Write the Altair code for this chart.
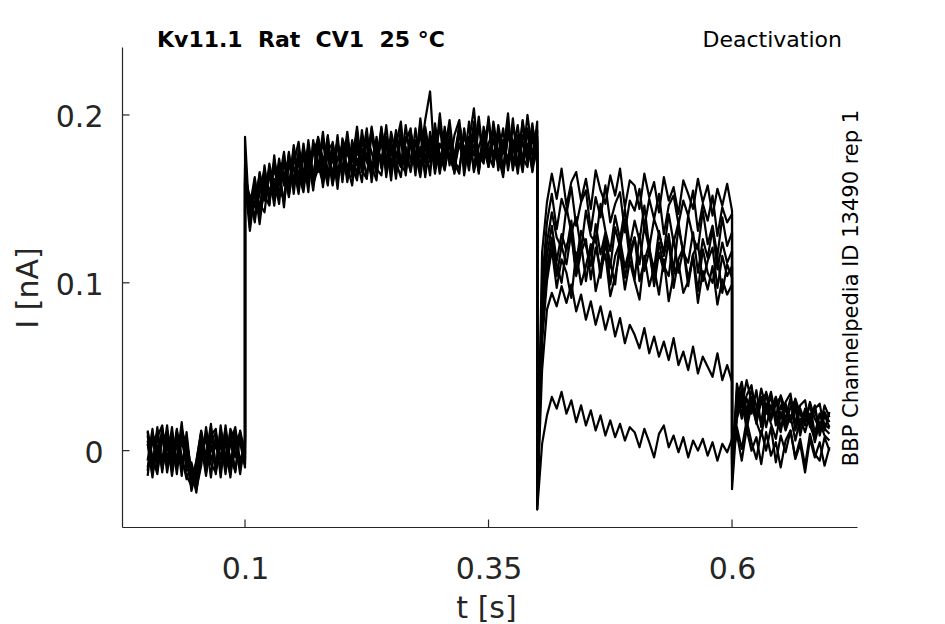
import altair as alt
import pandas as pd

# ---------------- data (current in nA, sampled every 5 ms) ----------------
DT = 0.005
PHASE_START = [0.0, 0.1, 0.4, 0.6]   # s: holding, activation step, test step, tail

X_TICKS = [0.1, 0.35, 0.6]
Y_TICKS = [0.0, 0.1, 0.2]

TITLE = "Kv11.1\u00a0\u00a0Rat\u00a0\u00a0CV1\u00a0\u00a025\u00a0°C"
PROTOCOL = "Deactivation"
SOURCE = "BBP Channelpedia ID 13490 rep 1"

# holding (0 - 0.1 s), one list per sweep
PRE = [
    [0.009, -0.011, 0.012, -0.008, 0.006, -0.013, 0.010, -0.005, -0.015, -0.021, -0.006, 0.011, -0.012, 0.014, -0.009, 0.007, -0.014, 0.012, -0.004, 0.010, -0.008],
    [-0.012, 0.010, -0.004, 0.013, -0.010, 0.008, -0.014, 0.011, -0.002, -0.024, -0.011, 0.004, -0.015, 0.009, 0.013, -0.011, 0.006, -0.016, 0.011, -0.009, 0.004],
    [0.004, -0.016, 0.008, 0.015, -0.009, 0.011, -0.007, 0.017, -0.012, -0.010, -0.025, -0.003, 0.010, -0.008, -0.013, 0.015, -0.006, 0.008, -0.013, 0.012, -0.002],
    [-0.006, 0.013, -0.012, 0.006, 0.011, -0.015, 0.005, -0.011, 0.008, -0.018, -0.007, 0.012, -0.004, 0.016, -0.012, 0.004, -0.009, 0.013, 0.006, -0.014, 0.008],
    [0.012, -0.004, -0.014, 0.010, -0.006, 0.014, -0.010, 0.006, -0.008, -0.013, -0.020, 0.008, -0.011, 0.005, 0.011, -0.016, 0.010, -0.005, -0.012, 0.009, -0.006],
    [-0.010, 0.006, 0.010, -0.013, 0.012, -0.004, 0.009, -0.015, 0.011, -0.016, -0.023, -0.009, 0.014, -0.006, 0.004, -0.012, 0.015, -0.008, 0.009, -0.011, 0.002],
    [0.006, -0.014, 0.003, -0.006, 0.015, -0.011, 0.012, -0.003, -0.017, -0.007, -0.019, 0.005, -0.008, 0.012, -0.014, 0.009, -0.011, 0.004, 0.014, -0.007, 0.006],
    [-0.015, 0.008, -0.009, 0.011, -0.013, 0.004, -0.008, 0.013, 0.002, -0.022, -0.014, 0.010, -0.013, 0.003, -0.010, 0.012, -0.003, -0.014, 0.010, 0.005, -0.010],
    [0.011, -0.009, 0.014, -0.011, 0.003, -0.007, 0.013, -0.012, 0.005, -0.011, -0.017, -0.001, 0.007, -0.016, 0.010, -0.005, 0.013, -0.010, 0.002, 0.011, -0.005],
]

# activation step (0.1 - 0.4 s)
STEP = [
    [0.187, 0.133, 0.162, 0.141, 0.170, 0.147, 0.176, 0.151, 0.172, 0.155, 0.180,
     0.158, 0.183, 0.161, 0.177, 0.186, 0.157, 0.181, 0.163, 0.188, 0.160,
     0.186, 0.164, 0.190, 0.167, 0.162, 0.189, 0.170, 0.193, 0.163, 0.185,
     0.166, 0.192, 0.170, 0.188, 0.164, 0.195, 0.172, 0.168, 0.191, 0.166,
     0.193, 0.170, 0.188, 0.197, 0.169, 0.186, 0.167, 0.194, 0.172, 0.199,
     0.170, 0.190, 0.166, 0.193, 0.175, 0.168, 0.196, 0.171, 0.189, 0.180],
    [0.165, 0.150, 0.138, 0.166, 0.150, 0.168, 0.152, 0.174, 0.158, 0.177, 0.153,
     0.179, 0.163, 0.159, 0.182, 0.166, 0.185, 0.162, 0.178, 0.159, 0.184,
     0.166, 0.181, 0.163, 0.191, 0.172, 0.165, 0.187, 0.168, 0.183, 0.161,
     0.189, 0.169, 0.184, 0.192, 0.168, 0.181, 0.165, 0.190, 0.174, 0.194,
     0.168, 0.185, 0.171, 0.165, 0.192, 0.173, 0.196, 0.168, 0.187, 0.174,
     0.193, 0.167, 0.185, 0.172, 0.198, 0.169, 0.184, 0.174, 0.195, 0.170],
    [0.160, 0.131, 0.155, 0.147, 0.142, 0.166, 0.149, 0.160, 0.178, 0.151, 0.171,
     0.184, 0.160, 0.175, 0.155, 0.180, 0.168, 0.187, 0.161, 0.174, 0.182,
     0.160, 0.178, 0.188, 0.166, 0.184, 0.170, 0.161, 0.192, 0.175, 0.168,
     0.182, 0.196, 0.167, 0.185, 0.171, 0.190, 0.163, 0.186, 0.178, 0.169,
     0.191, 0.175, 0.166, 0.195, 0.179, 0.170, 0.189, 0.165, 0.193, 0.176,
     0.169, 0.194, 0.177, 0.201, 0.168, 0.186, 0.172, 0.192, 0.166, 0.184],
    [0.170, 0.140, 0.158, 0.144, 0.163, 0.153, 0.168, 0.155, 0.150, 0.175, 0.160,
     0.172, 0.156, 0.185, 0.164, 0.171, 0.159, 0.179, 0.183, 0.164, 0.176,
     0.186, 0.163, 0.179, 0.169, 0.188, 0.160, 0.182, 0.171, 0.194, 0.167,
     0.176, 0.185, 0.164, 0.190, 0.174, 0.167, 0.193, 0.175, 0.184, 0.165,
     0.186, 0.192, 0.168, 0.183, 0.171, 0.196, 0.166, 0.181, 0.190, 0.169,
     0.185, 0.176, 0.163, 0.190, 0.178, 0.194, 0.170, 0.183, 0.167, 0.191],
    [0.158, 0.152, 0.136, 0.160, 0.149, 0.171, 0.157, 0.165, 0.148, 0.170, 0.163,
     0.157, 0.181, 0.166, 0.162, 0.187, 0.172, 0.158, 0.184, 0.166, 0.179,
     0.170, 0.158, 0.183, 0.173, 0.192, 0.164, 0.178, 0.187, 0.166, 0.181,
     0.172, 0.163, 0.187, 0.181, 0.169, 0.198, 0.173, 0.186, 0.165, 0.183,
     0.175, 0.194, 0.169, 0.188, 0.181, 0.167, 0.192, 0.177, 0.171, 0.197,
     0.175, 0.189, 0.165, 0.187, 0.181, 0.170, 0.197, 0.176, 0.186, 0.172],
    [0.162, 0.148, 0.140, 0.153, 0.168, 0.150, 0.162, 0.147, 0.176, 0.160, 0.169,
     0.153, 0.178, 0.170, 0.161, 0.186, 0.167, 0.176, 0.158, 0.182, 0.177,
     0.163, 0.185, 0.170, 0.180, 0.162, 0.193, 0.174, 0.183, 0.167, 0.190,
     0.176, 0.169, 0.194, 0.172, 0.185, 0.166, 0.189, 0.180, 0.171, 0.201,
     0.174, 0.182, 0.165, 0.193, 0.176, 0.184, 0.204, 0.172, 0.181, 0.169,
     0.196, 0.177, 0.185, 0.170, 0.193, 0.182, 0.166, 0.190, 0.176, 0.185],
    [0.159, 0.146, 0.163, 0.139, 0.155, 0.165, 0.146, 0.171, 0.162, 0.156, 0.182,
     0.163, 0.176, 0.154, 0.185, 0.170, 0.164, 0.188, 0.159, 0.175, 0.168,
     0.190, 0.167, 0.174, 0.160, 0.186, 0.178, 0.165, 0.190, 0.172, 0.183,
     0.162, 0.188, 0.176, 0.167, 0.192, 0.170, 0.182, 0.164, 0.195, 0.175,
     0.170, 0.187, 0.176, 0.193, 0.164, 0.184, 0.176, 0.199, 0.173, 0.183,
     0.191, 0.170, 0.178, 0.195, 0.167, 0.188, 0.175, 0.169, 0.193, 0.178],
    [0.168, 0.142, 0.157, 0.135, 0.160, 0.156, 0.151, 0.169, 0.145, 0.178, 0.158,
     0.174, 0.166, 0.181, 0.159, 0.168, 0.190, 0.165, 0.173, 0.184, 0.162,
     0.181, 0.172, 0.193, 0.168, 0.177, 0.163, 0.181, 0.174, 0.186, 0.170,
     0.191, 0.173, 0.181, 0.166, 0.184, 0.175, 0.197, 0.214, 0.170, 0.177,
     0.167, 0.185, 0.175, 0.191, 0.170, 0.187, 0.181, 0.166, 0.190, 0.178,
     0.186, 0.174, 0.192, 0.167, 0.184, 0.179, 0.171, 0.200, 0.177, 0.187],
    [0.163, 0.137, 0.147, 0.165, 0.152, 0.146, 0.173, 0.158, 0.166, 0.152, 0.175,
     0.165, 0.154, 0.177, 0.160, 0.183, 0.175, 0.163, 0.180, 0.156, 0.186,
     0.177, 0.169, 0.161, 0.185, 0.174, 0.192, 0.168, 0.164, 0.187, 0.176,
     0.186, 0.170, 0.166, 0.189, 0.177, 0.163, 0.186, 0.172, 0.191, 0.170,
     0.178, 0.197, 0.172, 0.168, 0.188, 0.176, 0.192, 0.167, 0.184, 0.195,
     0.172, 0.180, 0.168, 0.191, 0.185, 0.165, 0.188, 0.179, 0.172, 0.196],
]

# test step (0.4 - 0.6 s)
TEST = [
    [-0.030, 0.118, 0.148, 0.165, 0.150, 0.168, 0.146, 0.160, 0.166, 0.149, 0.162, 0.144, 0.167, 0.155, 0.147, 0.164, 0.152, 0.168, 0.145, 0.161, 0.158, 0.144, 0.165, 0.151, 0.160, 0.142, 0.163, 0.149, 0.157, 0.141, 0.161, 0.153, 0.144, 0.162, 0.148, 0.158, 0.140, 0.156, 0.146, 0.159, 0.143],
    [-0.025, 0.100, 0.136, 0.153, 0.132, 0.150, 0.141, 0.157, 0.134, 0.148, 0.155, 0.131, 0.151, 0.139, 0.158, 0.136, 0.147, 0.154, 0.130, 0.149, 0.143, 0.156, 0.133, 0.150, 0.138, 0.153, 0.129, 0.146, 0.152, 0.135, 0.149, 0.140, 0.155, 0.131, 0.147, 0.137, 0.152, 0.128, 0.145, 0.136, 0.141],
    [-0.035, 0.090, 0.124, 0.142, 0.127, 0.121, 0.145, 0.130, 0.139, 0.120, 0.143, 0.128, 0.124, 0.147, 0.131, 0.119, 0.140, 0.126, 0.144, 0.122, 0.137, 0.125, 0.146, 0.121, 0.138, 0.129, 0.118, 0.141, 0.124, 0.136, 0.117, 0.140, 0.127, 0.120, 0.143, 0.123, 0.134, 0.116, 0.139, 0.122, 0.130],
    [-0.028, 0.084, 0.116, 0.134, 0.113, 0.129, 0.119, 0.137, 0.112, 0.131, 0.122, 0.110, 0.135, 0.117, 0.130, 0.109, 0.133, 0.121, 0.138, 0.114, 0.127, 0.111, 0.134, 0.120, 0.108, 0.131, 0.116, 0.129, 0.107, 0.133, 0.118, 0.112, 0.130, 0.106, 0.126, 0.115, 0.132, 0.108, 0.124, 0.112, 0.119],
    [-0.022, 0.076, 0.108, 0.127, 0.104, 0.122, 0.111, 0.130, 0.106, 0.124, 0.101, 0.120, 0.128, 0.103, 0.123, 0.112, 0.099, 0.126, 0.109, 0.121, 0.102, 0.129, 0.107, 0.119, 0.100, 0.124, 0.110, 0.104, 0.127, 0.106, 0.120, 0.098, 0.117, 0.123, 0.101, 0.113, 0.121, 0.097, 0.116, 0.104, 0.110],
    [-0.026, 0.070, 0.106, 0.125, 0.111, 0.100, 0.122, 0.129, 0.104, 0.118, 0.126, 0.102, 0.121, 0.108, 0.128, 0.099, 0.116, 0.124, 0.103, 0.119, 0.127, 0.101, 0.113, 0.123, 0.098, 0.118, 0.107, 0.125, 0.097, 0.114, 0.121, 0.102, 0.117, 0.095, 0.120, 0.106, 0.100, 0.116, 0.094, 0.111, 0.103],
    [-0.032, 0.065, 0.101, 0.120, 0.097, 0.114, 0.106, 0.091, 0.118, 0.099, 0.110, 0.123, 0.095, 0.108, 0.117, 0.092, 0.104, 0.119, 0.096, 0.113, 0.101, 0.090, 0.116, 0.098, 0.109, 0.093, 0.114, 0.089, 0.105, 0.112, 0.094, 0.101, 0.115, 0.088, 0.107, 0.096, 0.110, 0.087, 0.102, 0.093, 0.099],
    [-0.030, 0.048, 0.084, 0.094, 0.086, 0.098, 0.088, 0.099, 0.083, 0.093, 0.078, 0.089, 0.075, 0.086, 0.072, 0.083, 0.068, 0.079, 0.064, 0.075, 0.069, 0.061, 0.073, 0.058, 0.068, 0.056, 0.065, 0.054, 0.067, 0.051, 0.059, 0.048, 0.062, 0.046, 0.056, 0.050, 0.044, 0.058, 0.042, 0.051, 0.041],
    [-0.035, 0.004, 0.021, 0.032, 0.025, 0.035, 0.022, 0.030, 0.017, 0.027, 0.015, 0.024, 0.012, 0.021, 0.009, 0.018, 0.008, 0.016, 0.006, 0.014, 0.011, 0.002, 0.013, 0.005, -0.004, 0.010, 0.015, 0.002, 0.009, -0.001, 0.008, -0.004, 0.006, 0.000, 0.007, -0.003, 0.005, -0.006, 0.004, -0.001, 0.007],
]

# tail (0.6 - 0.7 s)
TAIL = [
    [-0.012, 0.040, 0.026, 0.042, 0.029, 0.021, 0.037, 0.025, 0.035, 0.020, 0.033, 0.024, 0.018, 0.031, 0.022, 0.015, 0.029, 0.019, 0.013, 0.027, 0.020],
    [-0.008, 0.031, 0.041, 0.023, 0.036, 0.027, 0.017, 0.035, 0.024, 0.032, 0.019, 0.029, 0.034, 0.016, 0.027, 0.030, 0.014, 0.025, 0.028, 0.012, 0.023],
    [-0.015, 0.036, 0.022, 0.033, 0.039, 0.019, 0.030, 0.034, 0.018, 0.028, 0.032, 0.015, 0.026, 0.030, 0.013, 0.025, 0.018, 0.027, 0.011, 0.023, 0.017],
    [-0.005, 0.025, 0.037, 0.021, 0.032, 0.016, 0.030, 0.022, 0.033, 0.015, 0.027, 0.019, 0.031, 0.012, 0.025, 0.017, 0.028, 0.010, 0.022, 0.016, 0.013],
    [-0.018, 0.033, 0.019, 0.031, 0.022, 0.036, 0.014, 0.028, 0.020, 0.032, 0.013, 0.026, 0.018, 0.028, 0.011, 0.024, 0.016, 0.026, 0.009, 0.021, 0.014],
    [-0.010, 0.022, 0.034, 0.018, 0.030, 0.021, 0.032, 0.014, 0.027, 0.019, 0.011, 0.028, 0.017, 0.025, 0.009, 0.023, 0.015, 0.007, 0.022, 0.013, 0.010],
    [-0.023, 0.019, 0.030, 0.013, 0.027, 0.017, 0.009, 0.025, 0.016, 0.007, 0.023, 0.012, 0.021, 0.006, 0.019, 0.011, 0.022, 0.005, 0.017, 0.009, 0.006],
    [-0.006, 0.014, 0.001, 0.018, 0.005, -0.005, 0.012, 0.000, 0.014, -0.007, 0.009, -0.001, 0.012, -0.004, 0.007, -0.009, 0.010, -0.002, -0.006, 0.008, 0.000],
    [-0.004, 0.010, -0.006, 0.013, 0.000, 0.008, -0.008, 0.011, -0.003, 0.005, -0.010, 0.006, 0.012, -0.005, 0.004, -0.013, 0.007, -0.004, 0.005, -0.009, 0.002],
]

# ---------------- table ----------------
rows = []
for k in range(len(PRE)):
    n = 0
    for start, phase in zip(PHASE_START, (PRE, STEP, TEST, TAIL)):
        for j, v in enumerate(phase[k]):
            rows.append({"sweep": k + 1, "i": n, "t": round(start + j * DT, 4), "I": v})
            n += 1
df = pd.DataFrame(rows)

# ---------------- chart ----------------
FONT = "DejaVu Sans"
AX = "#262626"
W, H = 735, 480

xs = alt.Scale(domain=[-0.0263, 0.7283], nice=False, zero=False)
ys = alt.Scale(domain=[-0.0455, 0.2405], nice=False, zero=False)

traces = alt.Chart(df).mark_line(
    color="black", strokeWidth=2.2, strokeJoin="round", clip=True
).encode(
    x=alt.X("t:Q", scale=xs, title="t [s]", axis=alt.Axis(
        values=X_TICKS, format="~g", ticks=False, tickSize=0, grid=False,
        domainColor=AX, domainWidth=1.2,
        labelFont=FONT, labelFontSize=30, labelColor=AX,
        labelBaseline="alphabetic", labelPadding=51,
        labelOverlap=False, labelFlush=False,
        titleFont=FONT, titleFontSize=30, titleFontWeight="normal", titleColor=AX,
        titleBaseline="alphabetic", titleAlign="center", titleX=364, titleY=90.5)),
    y=alt.Y("I:Q", scale=ys, title="I [nA]", axis=alt.Axis(
        values=Y_TICKS, format="~g", ticks=False, tickSize=0, grid=False,
        domainColor=AX, domainWidth=1.2,
        labelFont=FONT, labelFontSize=30, labelColor=AX,
        labelBaseline="alphabetic", labelAlign="right", labelPadding=19, labelOffset=11.5,
        labelOverlap=False, labelFlush=False,
        titleFont=FONT, titleFontSize=30, titleFontWeight="normal", titleColor=AX,
        titleAngle=270, titleBaseline="alphabetic", titleAlign="center",
        titleX=-84.5, titleY=240.5)),
    detail="sweep:N",
    order="i:Q",
)

# inward-pointing tick marks
xticks = alt.Chart(pd.DataFrame({"t": X_TICKS})).mark_rule(color=AX, strokeWidth=1.2).encode(
    x=alt.X("t:Q", scale=xs), y=alt.value(H), y2=alt.value(H - 7.5)
)
yticks = alt.Chart(pd.DataFrame({"I": Y_TICKS})).mark_rule(color=AX, strokeWidth=1.2).encode(
    y=alt.Y("I:Q", scale=ys), x=alt.value(0), x2=alt.value(7.5)
)

title = alt.Chart(pd.DataFrame({"s": [TITLE]})).mark_text(
    font=FONT, fontSize=22, fontWeight="bold", color="black", align="left", baseline="alphabetic"
).encode(text="s:N", x=alt.value(35), y=alt.value(0))

protocol = alt.Chart(pd.DataFrame({"s": [PROTOCOL]})).mark_text(
    font=FONT, fontSize=22, color="black", align="right", baseline="alphabetic"
).encode(text="s:N", x=alt.value(720), y=alt.value(0))

source = alt.Chart(pd.DataFrame({"s": [SOURCE]})).mark_text(
    font=FONT, fontSize=21, color="black", align="center", baseline="alphabetic", angle=270
).encode(text="s:N", x=alt.value(736), y=alt.value(241))

chart = alt.layer(traces, xticks, yticks, title, protocol, source).properties(
    width=W, height=H,
    padding={"left": 114, "top": 39, "right": 70, "bottom": 97},
    autosize=alt.AutoSizeParams(type="none"),
).configure_view(strokeWidth=0)

chart.save("out.html", embed_options={"renderer": "svg", "actions": False})
